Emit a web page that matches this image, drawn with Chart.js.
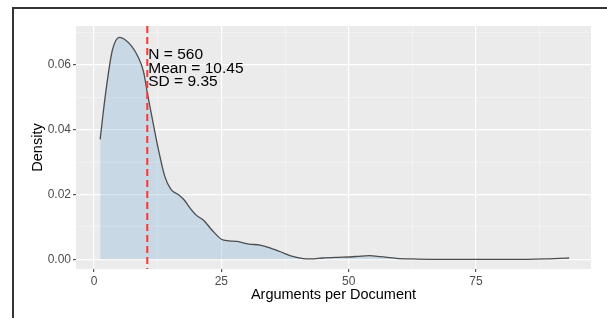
<!DOCTYPE html>
<html>
<head>
<meta charset="utf-8">
<script src="https://cdn.jsdelivr.net/npm/chart.js@4"></script>
<style>
  html, body { margin: 0; padding: 0; background: #fff; }
  #wrap { position: relative; width: 607px; height: 318px; overflow: hidden; }
  #frame { position: absolute; left: 12px; top: 7px; width: 700px; height: 400px;
           border-top: 2px solid #333; border-left: 2px solid #333; pointer-events: none; }
</style>
</head>
<body>
<div id="wrap">
  <canvas id="myChart" width="607" height="318"></canvas>
  <div id="frame"></div>
</div>
<script>
// density curve
var argsX = [1.2, 1.7, 2.5, 3.6, 5.0, 5.9, 7.4, 8.6, 9.7, 10.5, 11.6, 12.8, 13.9, 15.1, 16.6, 17.7, 18.9, 20.0, 21.6, 23.1, 25.0, 26.5, 28.1, 30.4, 32.6, 34.2, 36.5, 38.8, 41.1, 42.6, 44.9, 47.9, 50.2, 52.5, 54.1, 56.3, 59.4, 62.5, 66, 70, 75, 80, 85, 88.5, 91.5, 93.3]
var density = [0.037, 0.044, 0.054, 0.0646, 0.0685, 0.068, 0.0657, 0.0626, 0.058, 0.051, 0.042, 0.0327, 0.0255, 0.0216, 0.0199, 0.0183, 0.0157, 0.0137, 0.0119, 0.0091, 0.0062, 0.0057, 0.0055, 0.0047, 0.0044, 0.0037, 0.0024, 0.0010, 0.0002, 0.0001, 0.0004, 0.0006, 0.0007, 0.0010, 0.0011, 0.0008, 0.0003, 0.0001, 0, 0, 0, 0, 0, 0.0001, 0.0003, 0.0004]

var meanVal = 10.45
var statLines = ['N = 560', 'Mean = 10.45', 'SD = 9.35']

var xTicks = [0, 12.5, 25, 37.5, 50, 62.5, 75, 87.5]
var xTickLabels = ['0', '', '25', '', '50', '', '75', '']
var yTicks = [0, 0.01, 0.02, 0.03, 0.04, 0.05, 0.06, 0.07]
var yTickLabels = ['0.00', '', '0.02', '', '0.04', '', '0.06', '']

var points = []
for (let i = 0; i < argsX.length; i++) {
    points.push({x: argsX[i], y: density[i]})
}

var font = 'Liberation Sans, Arial, sans-serif'

var panelBg = {
    id: 'panelBg',
    beforeDraw(chart) {
        var a = chart.chartArea
        var c = chart.ctx
        c.save()
        c.fillStyle = '#ebebeb'
        c.fillRect(a.left, a.top, a.right - a.left, a.bottom - a.top)
        c.restore()
    }
}

var extras = {
    id: 'extras',
    afterDatasetsDraw(chart) {
        var a = chart.chartArea
        var c = chart.ctx
        var px = chart.scales.x.getPixelForValue(meanVal)
        c.save()
        c.strokeStyle = '#ff3333'
        c.lineWidth = 2
        c.setLineDash([7, 4])
        c.beginPath()
        c.moveTo(px, a.top)
        c.lineTo(px, a.bottom)
        c.stroke()
        c.setLineDash([])

        c.fillStyle = '#000'
        c.font = '15.5px ' + font
        c.textAlign = 'left'
        c.textBaseline = 'alphabetic'
        var y0 = chart.scales.y.getPixelForValue(0.0617)
        statLines.forEach((t, i) => {
            c.fillText(t, px + 1, y0 + i * 13.5)
        })

        // axis titles
        c.font = '14.5px ' + font
        c.textAlign = 'center'
        c.textBaseline = 'middle'
        c.fillText('Arguments per Document', (a.left + a.right) / 2, 295)
        c.translate(38, (a.top + a.bottom) / 2)
        c.rotate(-Math.PI / 2)
        c.fillText('Density', 0, 0)
        c.restore()
    }
}

var ctx = document.getElementById('myChart').getContext('2d')
var myChart = new Chart(ctx, {
    type: 'line',
    data: {
        datasets: [{
            data: points,
            fill: 'origin',
            backgroundColor: 'rgba(118,175,215,0.3)',
            borderColor: '#4d4d4d',
            borderWidth: 1.3,
            pointRadius: 0,
            cubicInterpolationMode: 'monotone'
        }]
    },
    options: {
        responsive: false,
        animation: false,
        layout: { padding: { left: 0, right: 16, top: 26, bottom: 0 } },
        plugins: { legend: { display: false }, tooltip: { enabled: false } },
        scales: {
            x: {
                type: 'linear',
                min: -3.55,
                max: 97.6,
                afterFit: (s) => { s.height = 49 },
                afterBuildTicks: (s) => { s.ticks = xTicks.map(v => ({value: v})) },
                border: { display: false },
                grid: {
                    color: (c) => c.index % 2 === 0 ? '#ffffff' : '#f6f6f6',
                    lineWidth: (c) => c.index % 2 === 0 ? 1.2 : 0.6,
                    tickColor: (c) => c.index % 2 === 0 ? '#555' : 'rgba(0,0,0,0)',
                    tickLength: 3
                },
                ticks: {
                    autoSkip: false,
                    maxRotation: 0,
                    padding: 2,
                    color: '#4d4d4d',
                    font: { family: font, size: 12 },
                    callback: (v, i) => xTickLabels[i]
                }
            },
            y: {
                min: -0.003,
                max: 0.072,
                afterFit: (s) => { s.width = 76 },
                afterBuildTicks: (s) => { s.ticks = yTicks.map(v => ({value: v})) },
                border: { display: false },
                grid: {
                    color: (c) => c.index % 2 === 0 ? '#ffffff' : '#f6f6f6',
                    lineWidth: (c) => c.index % 2 === 0 ? 1.2 : 0.6,
                    tickColor: (c) => c.index % 2 === 0 ? '#555' : 'rgba(0,0,0,0)',
                    tickLength: 3
                },
                ticks: {
                    autoSkip: false,
                    padding: 2,
                    color: '#4d4d4d',
                    font: { family: font, size: 12 },
                    callback: (v, i) => yTickLabels[i]
                }
            }
        }
    },
    plugins: [panelBg, extras]
})
</script>
</body>
</html>
